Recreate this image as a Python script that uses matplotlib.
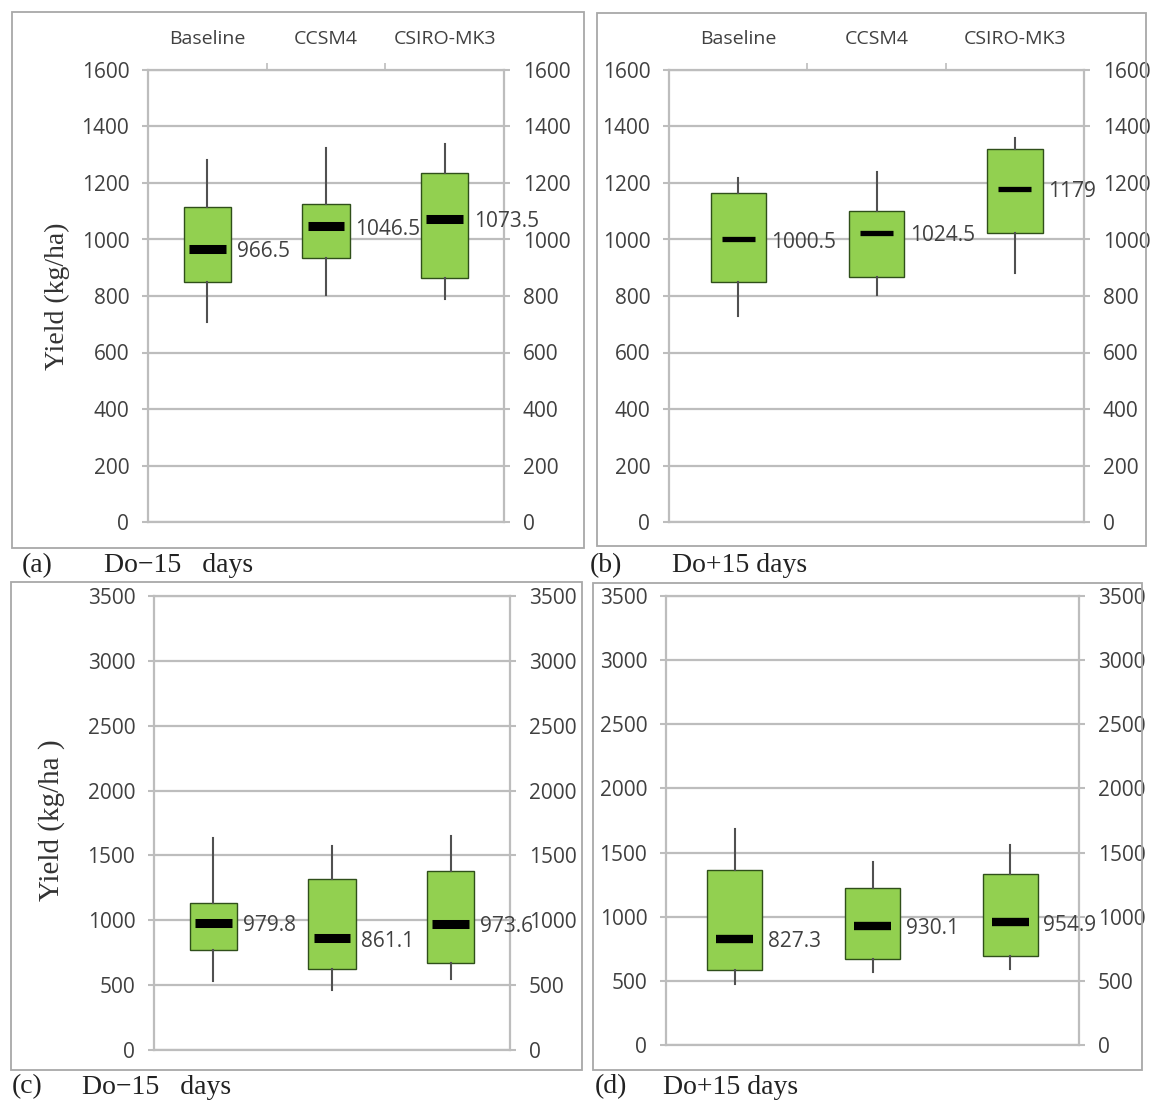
import matplotlib
matplotlib.use("Agg")
import matplotlib.pyplot as plt
from matplotlib.patches import Rectangle

# ---- data -------------------------------------------------------------
categories = ["Baseline", "CCSM4", "CSIRO-MK3"]

a_whislo = [709, 803, 788]
a_q1 = [849, 934, 862]
a_med = [966.5, 1046.5, 1073.5]
a_q3 = [1114, 1127, 1237]
a_whishi = [1280, 1323, 1339]

b_whislo = [729, 802, 883]
b_q1 = [850, 869, 1024]
b_med = [1000.5, 1024.5, 1179]
b_q3 = [1164, 1101, 1321]
b_whishi = [1217, 1240, 1358]

c_whislo = [529, 466, 545]
c_q1 = [772, 623, 668]
c_med = [979.8, 861.1, 973.6]
c_q3 = [1134, 1322, 1382]
c_whishi = [1636, 1571, 1649]

d_whislo = [477, 569, 590]
d_q1 = [583, 670, 697]
d_med = [827.3, 930.1, 954.9]
d_q3 = [1361, 1223, 1332]
d_whishi = [1681, 1430, 1562]

# ---- styling ----------------------------------------------------------
W, H = 1151, 1101
SANS = "Open Sans"
SERIF = "Liberation Serif"
GRID = "#BDBDBD"
TXT = "#404040"
BOX_FC = "#92D050"
BOX_EC = "#2F4F1A"

fig = plt.figure(figsize=(W / 100, H / 100), dpi=100)


def px_axes(x0, x1, y0, y1):
    return fig.add_axes([x0 / W, (H - y1) / H, (x1 - x0) / W, (y1 - y0) / H])


def frame(x0, x1, y0, y1):
    fig.patches.append(Rectangle((x0 / W, (H - y1) / H), (x1 - x0) / W, (y1 - y0) / H,
                                 transform=fig.transFigure, fill=False,
                                 edgecolor="#A8A8A8", linewidth=1.3))


def panel(ax, whislo, q1, med, q3, whishi, ymax, ystep, med_half, med_lw,
          top_labels):
    stats = []
    for i in range(len(categories)):
        stats.append(dict(whislo=whislo[i], q1=q1[i], med=med[i], q3=q3[i],
                          whishi=whishi[i], label=categories[i]))
    pos = list(range(len(categories)))
    ax.bxp(stats, positions=pos, widths=0.4, patch_artist=True, showfliers=False,
           showcaps=False,
           boxprops=dict(facecolor=BOX_FC, edgecolor=BOX_EC, linewidth=1.0),
           whiskerprops=dict(color="#505050", linewidth=1.5),
           medianprops=dict(linewidth=0), zorder=3)
    ax.hlines(med, [p - med_half for p in pos], [p + med_half for p in pos],
              colors="black", linewidth=med_lw, capstyle="butt", zorder=4)
    for p, m in zip(pos, med):
        ax.annotate(f"{m:g}", xy=(p + 0.2, m), xytext=(4, -2),
                    textcoords="offset points", ha="left", va="center",
                    fontsize=15, family=SANS, color=TXT, zorder=5)

    ax.set_xlim(-0.5, len(categories) - 0.5)
    ax.set_ylim(0, ymax)
    ax.set_yticks(range(0, ymax + 1, ystep))
    ax.yaxis.grid(True, color=GRID, linewidth=1.6)
    ax.set_axisbelow(True)
    for s in ax.spines.values():
        s.set_color(GRID)
        s.set_linewidth(1.6)
    ax.tick_params(axis="y", left=True, right=True, labelleft=True,
                   labelright=True, length=4.5, width=1.5, color=GRID,
                   pad=9, labelsize=15, labelcolor=TXT)
    for lab in ax.get_yticklabels():
        lab.set_family(SANS)

    if top_labels:
        ax.set_xticks([0.5, 1.5])
        ax.set_xticklabels([])
        ax.tick_params(axis="x", which="major", bottom=False, top=True,
                       labelbottom=False, length=5, width=1.2, color=GRID)
        ax.set_xticks(pos, minor=True)
        ax.set_xticklabels(categories, minor=True)
        ax.tick_params(axis="x", which="minor", bottom=False, top=False,
                       labelbottom=False, labeltop=True, length=0, pad=16,
                       labelsize=14, labelcolor=TXT)
        for lab in ax.get_xticklabels(minor=True):
            lab.set_family(SANS)
    else:
        ax.set_xticks([])


# ---- panels -----------------------------------------------------------
ax_a = px_axes(148, 504, 70, 522)
panel(ax_a, a_whislo, a_q1, a_med, a_q3, a_whishi, 1600, 200, 0.155, 6.5, True)
ax_b = px_axes(669, 1084, 70, 522)
panel(ax_b, b_whislo, b_q1, b_med, b_q3, b_whishi, 1600, 200, 0.12, 3.8, True)
ax_c = px_axes(154, 510, 596, 1050)
panel(ax_c, c_whislo, c_q1, c_med, c_q3, c_whishi, 3500, 500, 0.155, 6.5, False)
ax_d = px_axes(666, 1079, 596, 1045)
panel(ax_d, d_whislo, d_q1, d_med, d_q3, d_whishi, 3500, 500, 0.135, 6.0, False)

fig.text(57 / W, 1 - 296 / H, "Yield (kg/ha)", rotation=90, ha="center",
         va="center", fontsize=20, family=SERIF, color="#333333")
fig.text(52 / W, 1 - 820 / H, "Yield (kg/ha )", rotation=90, ha="center",
         va="center", fontsize=21, family=SERIF, color="#333333")

# panel frames
frame(12, 584, 12, 548)
frame(597, 1146, 13, 546)
frame(11, 582, 582, 1070)
frame(593, 1142, 583, 1070)

# captions
caps = [(22, 104, 566, "(a)", "Do\u221215   days"),
        (590, 672, 566, "(b)", "Do+15 days"),
        (12, 82, 1087, "(c)", "Do\u221215   days"),
        (595, 663, 1087, "(d)", "Do+15 days")]
for xl, xt, yc, tag, txt in caps:
    fig.text(xl / W, 1 - yc / H, tag, ha="left", va="center", fontsize=20,
             family=SERIF, color="#222222")
    fig.text(xt / W, 1 - yc / H, txt, ha="left", va="center", fontsize=20,
             family=SERIF, color="#222222")

fig.savefig("out.png", dpi=100, facecolor="white")
